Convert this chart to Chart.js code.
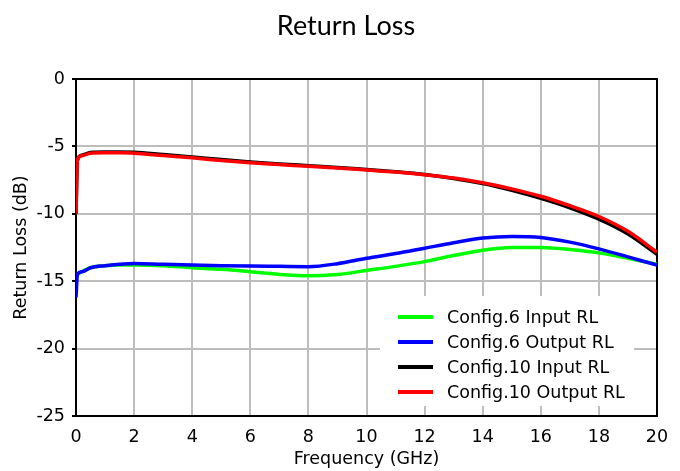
<!DOCTYPE html>
<html>
<head>
<meta charset="utf-8">
<script src="https://cdn.jsdelivr.net/npm/chart.js@4/dist/chart.umd.min.js"></script>
<style>
  html, body { margin: 0; padding: 0; background: #ffffff; }
  #wrap { width: 680px; height: 471px; }
</style>
</head>
<body>
<div id="wrap"><canvas id="c" width="680" height="471"></canvas></div>
<script>
// ---- data ----
const freqGHz = [0, 0.05, 0.2, 0.5, 1, 1.5, 2, 3, 4, 5, 6, 7, 8, 9, 10, 11, 12, 13, 14, 15, 16, 17, 18, 19, 20];

const cfg6Input  = [-14.6, -14.5, -14.3, -14.0, -13.85, -13.8, -13.8, -13.85, -14.0, -14.12, -14.3, -14.5, -14.6, -14.5, -14.2, -13.9, -13.55, -13.1, -12.7, -12.5, -12.5, -12.65, -12.9, -13.3, -13.75];
const cfg6Output = [-16.2, -14.5, -14.3, -14.0, -13.85, -13.75, -13.68, -13.75, -13.8, -13.85, -13.88, -13.9, -13.92, -13.7, -13.3, -12.95, -12.55, -12.15, -11.8, -11.68, -11.75, -12.1, -12.6, -13.2, -13.8];
const cfg10Input = [-10.0, -6.0, -5.65, -5.45, -5.42, -5.42, -5.43, -5.6, -5.78, -5.98, -6.15, -6.3, -6.43, -6.56, -6.72, -6.88, -7.08, -7.38, -7.75, -8.25, -8.85, -9.55, -10.4, -11.5, -13.0];
const cfg10Output = [-10.0, -6.0, -5.7, -5.5, -5.48, -5.48, -5.5, -5.68, -5.85, -6.05, -6.22, -6.35, -6.48, -6.6, -6.75, -6.9, -7.1, -7.35, -7.7, -8.15, -8.7, -9.4, -10.2, -11.3, -12.85];

const seriesLabels = ['Config.6 Input RL', 'Config.6 Output RL', 'Config.10 Input RL', 'Config.10 Output RL'];
const seriesColors = ['#00ff00', '#0000ff', '#000000', '#ff0000'];
const seriesValues = [cfg6Input, cfg6Output, cfg10Input, cfg10Output];

const xTicks = { min: 0, max: 20, step: 2 };
const yTicks = { min: -25, max: 0, step: 5 };

const chartTitle = 'Return Loss';
const xTitle = 'Frequency (GHz)';
const yTitle = 'Return Loss (dB)';

const AXIS_FONT = 'DejaVu Sans';
const TXT = 17.5;

// ---- plugins ----
const framePlugin = {
  id: 'frame',
  beforeDatasetsDraw(chart) {
    const { ctx, chartArea: a } = chart;
    ctx.save();
    ctx.strokeStyle = '#000000';
    ctx.lineWidth = 2;
    ctx.strokeRect(a.left, a.top, a.right - a.left, a.bottom - a.top);
    ctx.restore();
  }
};

const titlePlugin = {
  id: 'topTitle',
  afterDraw(chart) {
    const { ctx } = chart;
    ctx.save();
    ctx.font = '27px Lato';
    ctx.fillStyle = '#000000';
    ctx.textAlign = 'center';
    ctx.textBaseline = 'middle';
    ctx.fillText(chartTitle, 346, 26);
    ctx.restore();
  }
};

const boxLegend = {
  id: 'boxLegend',
  afterDatasetsDraw(chart) {
    const { ctx, chartArea: a } = chart;
    const boxL = a.left + 304, boxT = a.top + 217, boxR = a.left + 558, boxB = a.top + 327;
    ctx.save();
    ctx.fillStyle = '#ffffff';
    ctx.fillRect(boxL, boxT, boxR - boxL, boxB - boxT);
    ctx.font = TXT + 'px "' + AXIS_FONT + '"';
    ctx.textBaseline = 'middle';
    ctx.textAlign = 'left';
    chart.data.datasets.forEach((ds, i) => {
      const y = boxT + 21 + i * 25;
      ctx.strokeStyle = ds.borderColor;
      ctx.lineWidth = 4;
      ctx.beginPath();
      ctx.moveTo(boxL + 18, y);
      ctx.lineTo(boxL + 53, y);
      ctx.stroke();
      ctx.fillStyle = '#000000';
      ctx.fillText(ds.label, boxL + 67, y + 1);
    });
    ctx.restore();
  }
};

const datasets = seriesLabels.map((label, i) => ({
  label: label,
  data: freqGHz.map((f, j) => ({ x: f, y: seriesValues[i][j] })),
  borderColor: seriesColors[i],
  backgroundColor: seriesColors[i],
  borderWidth: 3.5,
  pointRadius: 0,
  fill: false,
  cubicInterpolationMode: 'monotone',
  order: seriesLabels.length - i
}));

new Chart(document.getElementById('c'), {
  type: 'line',
  data: { datasets: datasets },
  plugins: [framePlugin, boxLegend, titlePlugin],
  options: {
    responsive: false,
    animation: false,
    devicePixelRatio: 1,
    layout: { padding: { left: 0, right: 23, top: 79, bottom: 0 } },
    plugins: {
      legend: { display: false },
      tooltip: { enabled: false },
      title: { display: false }
    },
    scales: {
      x: {
        type: 'linear',
        min: xTicks.min,
        max: xTicks.max,
        afterFit(scale) { scale.height = 55; },
        ticks: {
          stepSize: xTicks.step,
          color: '#000000',
          font: { family: AXIS_FONT, size: TXT },
          padding: 7,
          maxRotation: 0
        },
        grid: { color: '#bdbdbd', lineWidth: 2, tickLength: 4, tickColor: 'rgba(0,0,0,0)' },
        border: { color: '#000000', width: 2 },
        title: {
          display: true,
          text: xTitle,
          color: '#000000',
          font: { family: AXIS_FONT, size: TXT },
          padding: { top: 0, bottom: 1 }
        }
      },
      y: {
        type: 'linear',
        min: yTicks.min,
        max: yTicks.max,
        afterFit(scale) { scale.width = 76; },
        ticks: {
          stepSize: yTicks.step,
          color: '#000000',
          font: { family: AXIS_FONT, size: TXT },
          padding: 7
        },
        grid: { color: '#bdbdbd', lineWidth: 2, tickLength: 4, tickColor: '#000000' },
        border: { color: '#000000', width: 2 },
        title: {
          display: true,
          text: yTitle,
          color: '#000000',
          font: { family: AXIS_FONT, size: TXT },
          padding: { top: 11, bottom: 0 }
        }
      }
    }
  }
});
</script>
</body>
</html>
